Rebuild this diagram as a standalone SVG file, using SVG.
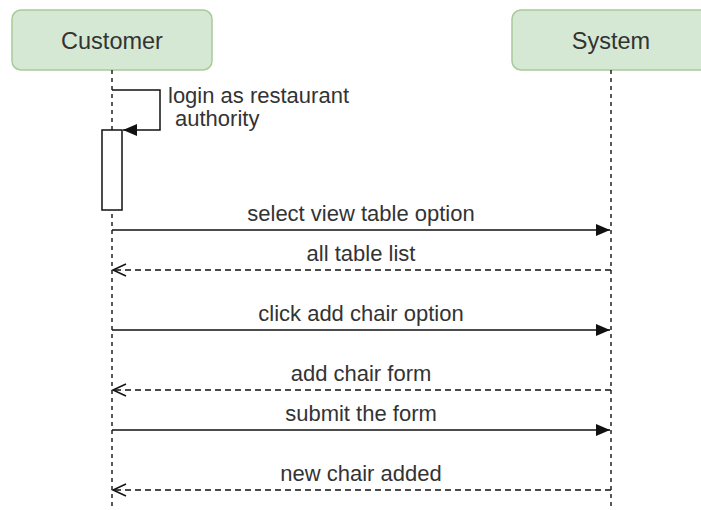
<svg xmlns="http://www.w3.org/2000/svg" width="701" height="510" viewBox="0 0 701 510">
<style>
.node{fill:#d5e8d4;stroke:#a9c99a;stroke-width:1.5}
.ntext{font-family:"Liberation Sans",Arial,sans-serif;font-size:23.5px;fill:#333;text-anchor:middle}
.life{stroke:#222;stroke-width:1.5;stroke-dasharray:4 4;fill:none}
.msg{stroke:#111;stroke-width:1.5;fill:none}
.ret{stroke:#111;stroke-width:1.5;fill:none;stroke-dasharray:6 4}
.lbl{font-family:"Liberation Sans",Arial,sans-serif;font-size:22px;fill:#333;text-anchor:middle}
.lbll{font-family:"Liberation Sans",Arial,sans-serif;font-size:22px;fill:#333}
</style>
<defs>
<marker id="solid" markerWidth="16" markerHeight="14" refX="14" refY="7" orient="auto" markerUnits="userSpaceOnUse">
<path d="M0,1 L14,7 L0,13 Z" fill="#111"/>
</marker>
<marker id="open" markerWidth="16" markerHeight="14" refX="14" refY="7" orient="auto" markerUnits="userSpaceOnUse">
<path d="M1,1 L14,7 L1,13" fill="none" stroke="#111" stroke-width="1.5"/>
</marker>
</defs>
<rect width="701" height="510" fill="#fff"/>
<g id="customer">
<rect class="node" x="12" y="10" width="200" height="60" rx="9"/>
<text class="ntext" x="112" y="49">Customer</text>
<line class="life" x1="112" y1="70" x2="112" y2="510"/>
</g>
<g id="system">
<rect class="node" x="512" y="10" width="200" height="60" rx="9"/>
<text class="ntext" x="611" y="49">System</text>
<line class="life" x1="611" y1="70" x2="611" y2="510"/>
</g>
<g id="activation">
<rect x="102" y="130" width="20" height="80" fill="#fff" stroke="#111" stroke-width="1.5"/>
</g>
<g id="connectors">
<path class="msg" d="M112,90 L160,90 L160,130 L123,130" marker-end="url(#solid)"/>
<line class="msg" x1="112" y1="230" x2="610" y2="230" marker-end="url(#solid)"/>
<line class="ret" x1="611" y1="270" x2="113" y2="270" marker-end="url(#open)"/>
<line class="msg" x1="112" y1="330" x2="610" y2="330" marker-end="url(#solid)"/>
<line class="ret" x1="611" y1="390" x2="113" y2="390" marker-end="url(#open)"/>
<line class="msg" x1="112" y1="430" x2="610" y2="430" marker-end="url(#solid)"/>
<line class="ret" x1="611" y1="490" x2="113" y2="490" marker-end="url(#open)"/>
</g>
<g id="labels">
<text class="lbll" x="168" y="103">login as restaurant</text>
<text class="lbll" x="175" y="126">authority</text>
<text class="lbl" x="361" y="221">select view table option</text>
<text class="lbl" x="361" y="261">all table list</text>
<text class="lbl" x="361" y="321">click add chair option</text>
<text class="lbl" x="361" y="381">add chair form</text>
<text class="lbl" x="361" y="421">submit the form</text>
<text class="lbl" x="361" y="481">new chair added</text>
</g>
</svg>
